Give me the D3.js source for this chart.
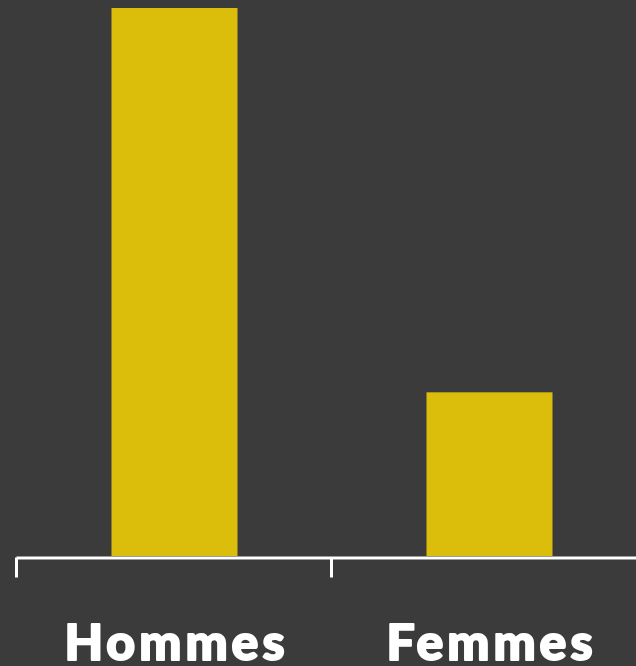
<!DOCTYPE html>
<html>
<head>
<meta charset="utf-8">
<script src="https://cdn.jsdelivr.net/npm/d3@7"></script>
<style>
  html, body { margin: 0; padding: 0; background: #3b3b3b; }
  svg { display: block; }
</style>
</head>
<body>
<svg class="chart"></svg>
<script>
// data
var categories = ['Hommes', 'Femmes'];
var values = [77, 23];

var width = 636;
var height = 666;

var chart = d3.select('.chart')
  .attr('width', width)
  .attr('height', height);

chart.append('rect')
  .attr('width', width)
  .attr('height', height)
  .attr('fill', '#3b3b3b');

var x = d3.scaleBand()
  .domain(categories)
  .range([17, 647])
  .paddingInner(0.6)
  .paddingOuter(0.3);

var y = d3.scaleLinear()
  .domain([0, 77])
  .range([556, 8]);

chart.selectAll('.bar')
  .data(values)
  .enter().append('rect')
  .attr('class', 'bar')
  .attr('x', (d, i) => x(categories[i]))
  .attr('width', x.bandwidth())
  .attr('y', (d) => y(d))
  .attr('height', (d) => y(0) - y(d))
  .attr('fill', '#dbbd0b');

// axis with ticks between categories
var edges = d3.scaleLinear()
  .domain([0, categories.length])
  .range([16, 646]);

var axis = chart.append('g')
  .attr('transform', 'translate(0,557.5)')
  .call(d3.axisBottom(edges)
    .tickValues(d3.range(categories.length + 1))
    .tickSize(20)
    .tickSizeOuter(0)
    .tickFormat(''));

axis.select('.domain')
  .attr('stroke', '#ffffff')
  .attr('stroke-width', 3);
axis.selectAll('.tick line')
  .attr('stroke', '#ffffff')
  .attr('stroke-width', 3);

chart.selectAll('.label')
  .data(categories)
  .enter().append('text')
  .attr('class', 'label')
  .attr('x', (d) => x(d) + x.bandwidth() / 2 + 2)
  .attr('y', 660)
  .attr('text-anchor', 'middle')
  .attr('fill', '#ffffff')
  .attr('stroke', '#ffffff')
  .attr('stroke-width', 2)
  .attr('stroke-linejoin', 'round')
  .style('font-family', 'Lato, sans-serif')
  .style('font-weight', 900)
  .style('font-size', '50px')
  .style('letter-spacing', '4px')
  .text((d) => d);
</script>
</body>
</html>
